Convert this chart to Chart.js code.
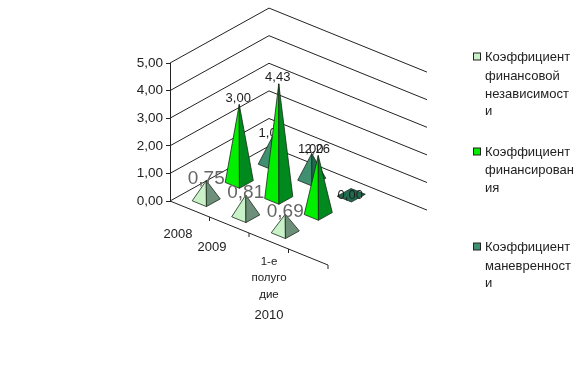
<!DOCTYPE html>
<html>
<head>
<meta charset="utf-8">
<style>
  html, body { margin: 0; padding: 0; background: #fff; }
  #wrap { width: 585px; height: 370px; }
</style>
<script src="https://cdn.jsdelivr.net/npm/chart.js@4"></script>
</head>
<body>
<div id="wrap"><canvas id="chart" width="585" height="370"></canvas></div>
<script>
// the 4th slot is empty in the original, the axis just runs on
const categories = ['2008', '2009', '1-е полугодие 2010', ''];
const independence = [0.75, 0.81, 0.69, null];
const financing = [3.00, 4.43, 2.26, null];
const maneuverability = [1.02, 1.00, 0.00, null];
const seriesLabels = ['Коэффициент финансовой независимости', 'Коэффициент финансирования', 'Коэффициент маневренности'];
const valueTicks = [0, 1, 2, 3, 4, 5];

// legend and axis text wraps the way the original does, mid word
const legendLines = [
    ['Коэффициент', 'финансовой', 'независимост', 'и'],
    ['Коэффициент', 'финансирован', 'ия'],
    ['Коэффициент', 'маневренност', 'и']
];
const legendRows = [[57, 76, 94, 111], [152, 170, 188], [247, 266, 283]];

const faces = [
    { left: '#c9f2c9', right: '#6e8f7a' },
    { left: '#00f000', right: '#008a1e' },
    { left: '#3f9070', right: '#1f6a50' }
];

const fmt = v => v.toFixed(2).replace('.', ',');

// fake 3D: floor vectors in pixels
const slopeX = 16 / 39.5;              // category axis drop per px along x
const depthStep = { x: 33, y: -18.3 }; // one series slot into the picture
const rise = 0.93;                     // columns stand further back than the value axis

// i = category index, shift = fraction of a slot, depth = series slots into the picture
function floorPoint(chart, i, shift, depth) {
    const sx = chart.scales.x;
    const slot = sx.getPixelForValue(1) - sx.getPixelForValue(0);
    const x = sx.getPixelForValue(i) + shift * slot;
    const y0 = chart.scales.y.getPixelForValue(0);
    return {
        x: x + depth * depthStep.x,
        y: y0 + (x - chart.chartArea.left) * slopeX + depth * depthStep.y
    };
}

function drawWalls(chart) {
    const ctx = chart.ctx, s = chart.scales, a = chart.chartArea;
    const nSeries = seriesLabels.length;
    const backX = a.left + nSeries * depthStep.x;
    const backDy = nSeries * depthStep.y;
    const wallDx = a.right - a.left;
    ctx.save();
    ctx.strokeStyle = '#222';
    ctx.lineWidth = 1;
    valueTicks.forEach(v => {
        const y = s.y.getPixelForValue(v);
        ctx.beginPath();
        ctx.moveTo(a.left, y);
        ctx.lineTo(backX, y + backDy);
        ctx.lineTo(backX + wallDx, y + backDy + wallDx * slopeX);
        ctx.stroke();
    });
    // category axis with its ticks
    const y0 = s.y.getPixelForValue(0);
    ctx.beginPath();
    ctx.moveTo(a.left, y0);
    ctx.lineTo(a.right, y0 + wallDx * slopeX);
    const slot = wallDx / categories.length;
    categories.forEach((c, i) => {
        const tx = a.left + (i + 1) * slot;
        const ty = y0 + (i + 1) * slot * slopeX;
        ctx.moveTo(tx, ty);
        ctx.lineTo(tx, ty + 4);
    });
    ctx.stroke();
    ctx.restore();
}

function drawPyramid(chart, i, j, value) {
    const ctx = chart.ctx;
    const c = floorPoint(chart, i, 0, j + 0.5);
    const o = floorPoint(chart, i, 0.18, j + 0.5);
    const ax = o.x - c.x, ay = o.y - c.y;       // half base along categories
    const bx = 0.21 * depthStep.x, by = 0.21 * depthStep.y; // half base along depth
    const h = (chart.scales.y.getPixelForValue(0) - chart.scales.y.getPixelForValue(value)) * rise;
    const apex = { x: c.x, y: c.y - h };
    const leftC = { x: c.x - ax - bx, y: c.y - ay - by };
    const front = { x: c.x + ax - bx, y: c.y + ay - by };
    const rightC = { x: c.x + ax + bx, y: c.y + ay + by };
    const backC = { x: c.x - ax + bx, y: c.y - ay + by };

    ctx.save();
    ctx.strokeStyle = '#1a2a1a';
    ctx.lineWidth = 0.8;
    ctx.lineJoin = 'round';
    const poly = (pts, fill) => {
        ctx.beginPath();
        pts.forEach((p, k) => k ? ctx.lineTo(p.x, p.y) : ctx.moveTo(p.x, p.y));
        ctx.closePath();
        ctx.fillStyle = fill;
        ctx.fill();
        ctx.stroke();
    };
    if (value === 0) {
        poly([leftC, front, rightC, backC], faces[j].right);
    } else {
        poly([leftC, front, apex], faces[j].left);
        poly([front, rightC, apex], faces[j].right);
    }
    ctx.restore();
    return apex;
}

const pyramids = {
    id: 'pyramids',
    beforeDatasetsDraw(chart) {
        drawWalls(chart);
    },
    afterDatasetsDraw(chart) {
        const ctx = chart.ctx;
        // back series first so the front ones cover them
        for (let j = chart.data.datasets.length - 1; j >= 0; j--) {
            chart.data.datasets[j].data.forEach((v, i) => {
                if (v === null) return;
                const apex = drawPyramid(chart, i, j, v);
                ctx.save();
                ctx.textAlign = 'center';
                ctx.textBaseline = 'middle';
                if (j === 0) {
                    ctx.font = '19px "Liberation Sans", Arial, sans-serif';
                    ctx.fillStyle = '#666';
                    ctx.fillText(fmt(v), apex.x, apex.y - 2);
                } else {
                    ctx.font = '13px "Liberation Sans", Arial, sans-serif';
                    ctx.fillStyle = '#1c1c1c';
                    ctx.fillText(fmt(v), apex.x - 1, v === 0 ? apex.y : apex.y - (j === 2 ? 4 : 6));
                }
                ctx.restore();
            });
        }
    },
    afterDraw(chart) {
        const ctx = chart.ctx;
        ctx.save();
        ctx.fillStyle = '#222';
        ctx.textBaseline = 'middle';

        // category labels, the first two sit left of their slot
        ctx.font = '13px "Liberation Sans", Arial, sans-serif';
        ctx.textAlign = 'center';
        ctx.fillText(categories[0], 178, 234);
        ctx.fillText(categories[1], 212, 247);
        ctx.font = '11.5px "Liberation Sans", Arial, sans-serif';
        ctx.fillText('1-е', 269, 262);
        ctx.fillText('полуго', 269, 278);
        ctx.fillText('дие', 269, 295);
        ctx.font = '13px "Liberation Sans", Arial, sans-serif';
        ctx.fillText('2010', 269, 315);

        // legend
        ctx.textAlign = 'left';
        legendLines.forEach((lines, j) => {
            ctx.fillStyle = faces[j].left;
            ctx.fillRect(473.5, legendRows[j][0] - 4, 7, 7);
            ctx.strokeStyle = '#222';
            ctx.lineWidth = 1;
            ctx.strokeRect(473.5, legendRows[j][0] - 4, 7, 7);
            ctx.fillStyle = '#222';
            lines.forEach((t, k) => ctx.fillText(t, 485, legendRows[j][k]));
        });
        ctx.restore();
    }
};

new Chart(document.getElementById('chart').getContext('2d'), {
    type: 'bar',
    data: {
        labels: categories,
        datasets: [
            { label: seriesLabels[0], data: independence, backgroundColor: 'transparent' },
            { label: seriesLabels[1], data: financing, backgroundColor: 'transparent' },
            { label: seriesLabels[2], data: maneuverability, backgroundColor: 'transparent' }
        ]
    },
    plugins: [pyramids],
    options: {
        responsive: false,
        animation: false,
        layout: { padding: { top: 63, bottom: 169, left: 0, right: 257 } },
        plugins: {
            legend: { display: false },
            tooltip: { enabled: false }
        },
        scales: {
            x: { display: false },
            y: {
                min: 0,
                max: 5,
                afterFit: scale => { scale.width = 170; },
                border: { display: true, color: '#222' },
                grid: { drawOnChartArea: false, drawTicks: true, tickLength: 4, color: '#222' },
                ticks: {
                    stepSize: 1,
                    padding: 3,
                    color: '#222',
                    font: { family: '"Liberation Sans", Arial, sans-serif', size: 13.5 },
                    callback: v => fmt(v)
                }
            }
        }
    }
});
</script>
</body>
</html>
